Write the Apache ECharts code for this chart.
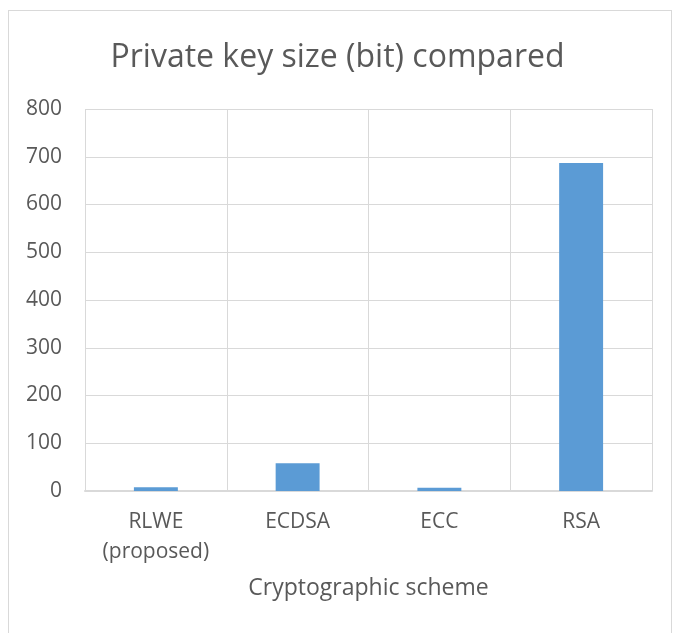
<!DOCTYPE html>
<html><head><meta charset="utf-8">
<script src="https://cdn.jsdelivr.net/npm/echarts@6/dist/echarts.min.js"></script>
<style>
html,body{margin:0;padding:0;background:#fff;}
#frame{position:absolute;left:8px;top:10px;width:664px;height:640px;border:1px solid #d9d9d9;box-sizing:border-box;}
#c{position:absolute;left:0;top:0;width:675px;height:633px;}
</style></head>
<body><div id="frame"></div><div id="c"></div>
<script>
const categories = ['RLWE\n(proposed)', 'ECDSA', 'ECC', 'RSA'];
const keySizes = [8, 58, 7, 687];
const yTicks = [0, 100, 200, 300, 400, 500, 600, 700, 800];

const chart = echarts.init(document.getElementById('c'));
const font = '"Open Sans", "Liberation Sans", sans-serif';
chart.setOption({
  animation: false,
  title: {
    text: 'Private key size (bit) compared',
    left: 'center', top: 37,
    textStyle: {fontFamily: font, fontSize: 32, fontWeight: 'normal', color: '#595959'}
  },
  grid: {left: 85, right: 23, top: 109, bottom: 142},
  xAxis: {
    type: 'category', data: categories,
    name: 'Cryptographic scheme', nameLocation: 'middle', nameGap: 86,
    nameTextStyle: {fontFamily: font, fontSize: 23, color: '#595959'},
    axisLine: {lineStyle: {color: '#d9d9d9', width: 2}},
    axisTick: {show: false},
    axisLabel: {fontFamily: font, fontSize: 21, color: '#595959', margin: 16, lineHeight: 30},
    splitLine: {show: true, lineStyle: {color: '#d9d9d9', width: 1}}
  },
  yAxis: {
    type: 'value', min: 0, max: 800, interval: 100,
    axisLine: {show: false}, axisTick: {show: false},
    axisLabel: {fontFamily: font, fontSize: 21, color: '#595959', margin: 23,
      formatter: v => yTicks.includes(v) ? String(v) : ''},
    splitLine: {lineStyle: {color: '#d9d9d9', width: 1}}
  },
  series: [{
    type: 'bar', data: keySizes, barWidth: '31%',
    itemStyle: {color: '#5b9bd5'}
  }]
});
</script></body></html>
